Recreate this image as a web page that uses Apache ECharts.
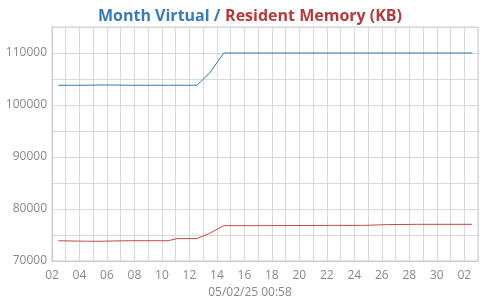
<!DOCTYPE html>
<html>
<head>
<meta charset="utf-8">
<script src="https://cdn.jsdelivr.net/npm/echarts@6/dist/echarts.min.js"></script>
<style>html,body{margin:0;padding:0;background:#fff}#c{width:500px;height:300px}</style>
</head>
<body>
<div id="c"></div>
<script>
var startDate = '2025-04-02T00:00';
var times = ['2025-04-02T11:00','2025-04-04T12:00','2025-04-05T12:00','2025-04-06T11:00','2025-04-07T13:00',
  '2025-04-10T11:00','2025-04-11T02:00','2025-04-12T13:00','2025-04-13T11:00','2025-04-14T12:00',
  '2025-04-17T12:00','2025-04-22T12:00','2025-04-24T14:00','2025-04-26T12:00','2025-04-28T14:00',
  '2025-04-30T12:00','2025-05-02T14:00'];
var virtualMem = [103800,103800,103850,103850,103800,103800,103800,103800,106100,110000,
  110000,110000,110000,110000,110000,110000,110000];
var residentMem = [73900,73800,73800,73850,73900,73900,74300,74300,75300,76800,
  76800,76850,76850,77000,77050,77050,77050];
var yTicks = [70000, 80000, 90000, 100000, 110000];
var xLabelTitle = '05/02/25 00:58';

var DAY = 86400000;
var t0 = Date.parse(startDate);
function toDays(s){ return (Date.parse(s) - t0) / DAY; }
var virtData = times.map(function(t,i){ return [toDays(t), virtualMem[i]]; });
var resData = times.map(function(t,i){ return [toDays(t), residentMem[i]]; });

var font = 'Open Sans';
var chart = echarts.init(document.getElementById('c'), null, {renderer:'canvas'});
chart.setOption({
  animation: false,
  title: {
    text: '{a|Month Virtual /} {b|Resident Memory (KB)}',
    left: 'center', top: 2,
    textStyle: {
      fontFamily: font,
      rich: {
        a: {color:'#3a7ab8', fontSize:16, fontWeight:'bold', fontFamily:font},
        b: {color:'#b43a3c', fontSize:16, fontWeight:'bold', fontFamily:font}
      }
    }
  },
  graphic: [{
    type:'text', left:'center', top:287,
    style:{text: xLabelTitle, fill:'#888', font:'12px "Open Sans"'}
  }],
  grid: {left:52, right:22, top:27, bottom:39, show:true, borderColor:'#ccc', borderWidth:1},
  xAxis: {
    type:'value', min:0, max:31, interval:1,
    axisLine:{show:true, lineStyle:{color:'#ccc'}},
    axisTick:{show:false},
    splitLine:{show:true, lineStyle:{color:'#d9d9d9', width:1}},
    axisLabel:{
      color:'#888', fontFamily:font, fontSize:12, margin:9,
      formatter:function(v){
        if (Math.round(v) % 2 !== 0) return '';
        var d = new Date(t0 + v*DAY);
        var n = d.getDate();
        return (n<10?'0':'')+n;
      }
    }
  },
  yAxis: {
    type:'value', min:70000, max:115000, interval:5000,
    axisLine:{show:true, lineStyle:{color:'#ccc'}},
    axisTick:{show:false},
    splitLine:{show:true, lineStyle:{color:'#d9d9d9', width:1}},
    axisLabel:{
      color:'#888', fontFamily:font, fontSize:12, margin:5,
      formatter:function(v){ return yTicks.indexOf(v) >= 0 ? String(v) : ''; }
    }
  },
  series: [
    {type:'line', name:'Virtual', data:virtData, showSymbol:false, symbol:'none',
     lineStyle:{color:'#3576b5', width:1}, itemStyle:{color:'#3576b5'}},
    {type:'line', name:'Resident', data:resData, showSymbol:false, symbol:'none',
     lineStyle:{color:'#c24a4a', width:1}, itemStyle:{color:'#c24a4a'}}
  ]
});
</script>
</body>
</html>
